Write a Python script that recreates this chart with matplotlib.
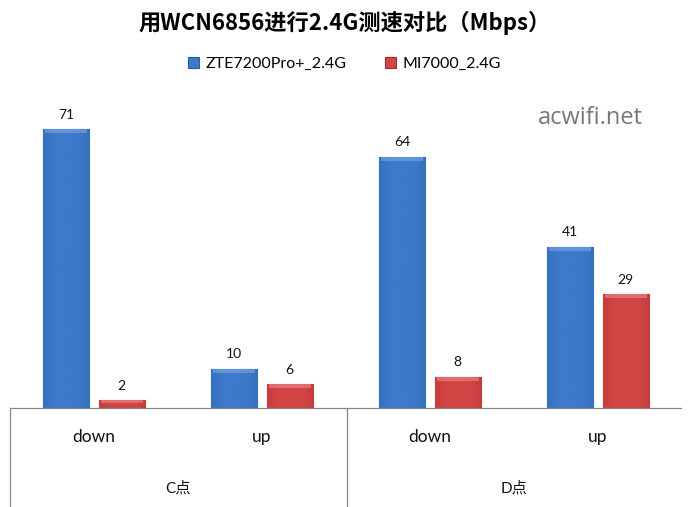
import matplotlib
matplotlib.use("Agg")
import matplotlib.pyplot as plt
import numpy as np
from matplotlib.colors import LinearSegmentedColormap

plt.rcParams['font.family'] = ['Lato', 'Noto Sans CJK SC', 'DejaVu Sans']

title = "用WCN6856进行2.4G测速对比（Mbps）"
sub_labels = ["down", "up", "down", "up"]
groups = ["C点", "D点"]
series_names = ["ZTE7200Pro+_2.4G", "MI7000_2.4G"]
zte = [71, 10, 64, 41]
mi = [2, 6, 8, 29]

colors = ["#3d7acb", "#d24545"]
mid = ["#3570c0", "#c53c3c"]
dark = ["#2b5c9e", "#9e2e2e"]
light = ["#7aa8e6", "#ec8a8a"]

fig = plt.figure(figsize=(6.89, 5.07), dpi=100)
W, H = 689, 507
ax = fig.add_axes([10 / W, (H - 408) / H, 672 / W, 318 / H])

x = np.arange(len(sub_labels))
bw = 0.275
off = 0.165
b1 = ax.bar(x - off, zte, bw, color=colors[0], edgecolor=dark[0], linewidth=0.8, label=series_names[0])
b2 = ax.bar(x + off, mi, bw, color=colors[1], edgecolor=dark[1], linewidth=0.8, label=series_names[1])

# light horizontal shading to mimic the bevelled bars
for bars, i in ((b1, 0), (b2, 1)):
    cmap = LinearSegmentedColormap.from_list("g", [mid[i], colors[i], colors[i], colors[i], mid[i]])
    grad = np.linspace(0, 1, 64).reshape(1, -1)
    for b in bars:
        x0, y0 = b.get_x(), b.get_y()
        w, h = b.get_width(), b.get_height()
        im = ax.imshow(grad, extent=[x0, x0 + w, y0, y0 + h], cmap=cmap, aspect="auto", zorder=2)
        im.set_clip_path(b)
        cap = min(1.0, h * 0.4)
        ax.fill_between([x0 + w * 0.05, x0 + w * 0.95], y0 + h - cap, y0 + h,
                        color=light[i], alpha=0.6, zorder=3, linewidth=0)
        ax.text(x0 + w / 2, h + 2.2, f"{int(h)}", ha="center", va="bottom", fontsize=10, color="#111111")

ax.set_xlim(-0.5, 3.5)
ax.set_ylim(0, 81)
ax.axis("off")

# category box under the plot
line_kw = dict(color="#888888", linewidth=0.9, transform=fig.transFigure, clip_on=False)
fig.add_artist(plt.Line2D([10 / W, 681 / W], [(H - 408) / H] * 2, **line_kw))
for px in (10, 347):
    fig.add_artist(plt.Line2D([px / W] * 2, [0, (H - 408) / H], **line_kw))

for i, lab in enumerate(sub_labels):
    ax.text(x[i], -7.5, lab, ha="center", va="center", fontsize=12.5, color="#111111", clip_on=False)
for g, lab in enumerate(groups):
    ax.text(x[2 * g] + 0.5, -20.5, lab, ha="center", va="center", fontsize=11, color="#111111",
            clip_on=False, family=['Lato', 'Noto Sans CJK SC'])

fig.text(0.5, 1 - 23 / H, title, ha="center", va="center", fontsize=16, fontweight="bold",
         family=['Noto Sans CJK SC', 'DejaVu Sans'])

leg = fig.legend(handles=[b1, b2], loc="center", bbox_to_anchor=(0.5, 1 - 64 / H), ncol=2,
                 frameon=False, fontsize=11.5, handlelength=0.7, handleheight=0.7,
                 columnspacing=2.4, handletextpad=0.4)

fig.text(590 / W, 1 - 118 / H, "acwifi.net", ha="center", va="center", fontsize=17, color="#777777",
         family="Open Sans")

fig.savefig("out.png", dpi=100)
